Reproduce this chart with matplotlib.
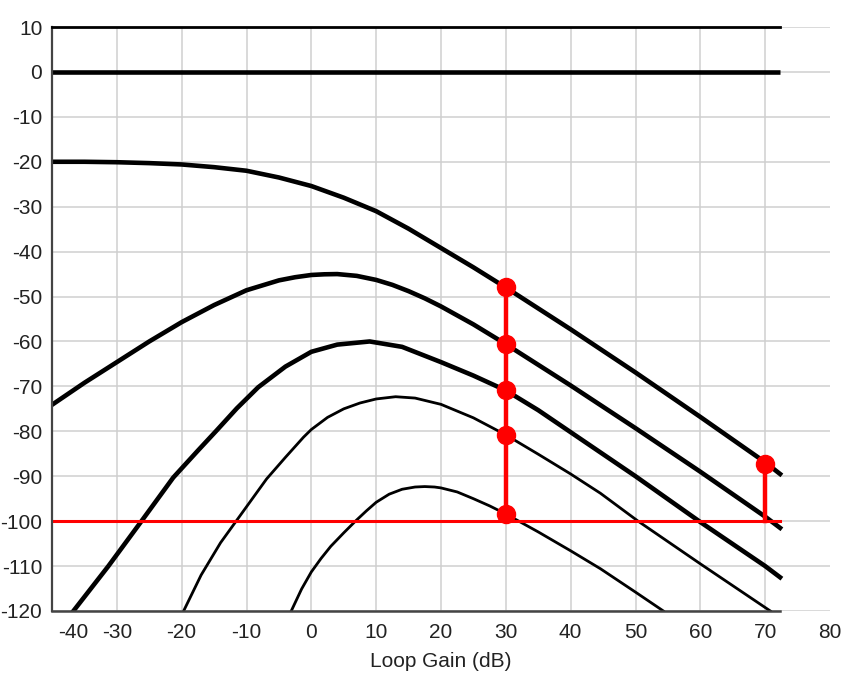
import matplotlib
matplotlib.use("Agg")
import matplotlib.pyplot as plt
from matplotlib.transforms import ScaledTranslation

plt.rcParams['font.family'] = ['Liberation Sans', 'DejaVu Sans']

# ---- data ----
x_ticks = [-40, -30, -20, -10, 0, 10, 20, 30, 40, 50, 60, 70, 80]
x_tick_labels = ['-40', '-30', '-20', '-10', '0', '10', '20', '30', '40', '50', '60', '70', '80']
y_ticks = [10, 0, -10, -20, -30, -40, -50, -60, -70, -80, -90, -100, -110, -120]
y_tick_labels = ['10', '0', '-10', '-20', '-30', '-40', '-50', '-60', '-70', '-80', '-90', '-100', '-110', '-120']
x_label = 'Loop Gain (dB)'

x_end = 72.3

zero_x = [-40, 72.3]
zero_y = [0, 0]

c2_x = [-40, -35, -30, -25, -20, -15, -10, -5, 0, 5, 10, 15, 20, 25, 30, 40, 50, 60, 70, 72.3]
c2_y = [-20, -20, -20.1, -20.3, -20.6, -21.2, -22, -23.5, -25.4, -28, -31, -34.9, -39.2, -43.5, -48, -57.3, -66.9, -76.8, -86.9, -89.5]

c3_x = [-40, -35, -30, -25, -20, -15, -10, -5, -2.5, 0, 2, 4, 7, 10, 12.5, 15, 17.5, 20, 25, 30, 40, 50, 60, 70, 72.3]
c3_y = [-74.1, -69.2, -64.6, -60, -55.7, -51.9, -48.6, -46.4, -45.7, -45.2, -45.05, -45, -45.4, -46.3, -47.4, -48.8, -50.4, -52.2, -56.2, -60.6, -69.8, -79.3, -89, -99, -101.5]

c4_x = [-36.7, -31.3, -26.2, -21.3, -17.5, -14.6, -11.5, -8.2, -4, 0, 4, 9, 14, 20, 25, 30, 35, 40, 50, 60, 70, 72.3]
c4_y = [-120, -110, -100, -90.3, -84.3, -79.8, -74.9, -70.2, -65.6, -62.3, -60.7, -60, -61.2, -64.6, -67.6, -70.9, -75.3, -80.2, -90, -100.2, -110, -112.5]

c5_x = [-19.7, -17, -14, -11.5, -9, -6.9, -4, -1.2, 0, 2.5, 5, 7.5, 10, 13, 16, 20, 25, 30, 35, 40, 44.6, 50.4, 60, 70.8]
c5_y = [-120, -112, -104.8, -99.8, -94.8, -90.6, -85.8, -81.3, -79.6, -76.9, -75, -73.7, -72.8, -72.3, -72.6, -74, -77, -80.8, -85.1, -89.5, -93.8, -100, -109.5, -120]

c6_x = [-3.1, -1.5, 0, 1.5, 3, 5, 6.8, 8.5, 10, 12, 14, 16, 17.5, 19, 20, 22.5, 25, 27.5, 30, 35, 40, 44.6, 50, 54.3]
c6_y = [-120, -115.1, -111.3, -108.3, -105.6, -102.6, -100, -97.7, -95.8, -94, -92.9, -92.4, -92.3, -92.4, -92.6, -93.5, -95, -96.6, -98.4, -102.4, -106.6, -110.6, -115.8, -120]

limit_level = -100
stem1_x = 30
stem1_dots = [-47.9, -60.6, -70.9, -80.8, -98.4]
stem2_x = 69.9
stem2_dots = [-87.2]

# ---- figure ----
W, H = 859, 687
fig = plt.figure(figsize=(W / 100, H / 100), dpi=100)
ax = fig.add_axes([52 / W, (H - 611) / H, (830 - 52) / W, (611 - 27) / H])
ax.set_xlim(-40, 80)
ax.set_ylim(-120, 10)

ax.set_xticks(x_ticks)
ax.set_xticklabels(x_tick_labels, fontsize=15, color='#222222')
ax.set_yticks(y_ticks)
ax.set_yticklabels(y_tick_labels, fontsize=15, color='#222222')
ax.tick_params(axis='both', length=0)
ax.tick_params(axis='y', pad=7)
ax.tick_params(axis='x', pad=9)

ax.grid(True, color='#cfcfcf', linewidth=1.1, zorder=0)
ax.set_axisbelow(True)
ax.get_xgridlines()[-1].set_visible(False)

# shift the first x tick label as in the reference
lbl0 = ax.get_xticklabels()[0]
lbl0.set_transform(lbl0.get_transform() + ScaledTranslation(0.21, 0, fig.dpi_scale_trans))

ax.spines['right'].set_visible(False)
ax.spines['top'].set_bounds(-40, x_end)
ax.spines['top'].set_color('black')
ax.spines['top'].set_linewidth(2.0)
ax.spines['bottom'].set_bounds(-40, x_end)
ax.spines['bottom'].set_color('#444444')
ax.spines['bottom'].set_linewidth(1.8)
ax.spines['left'].set_color('#444444')
ax.spines['left'].set_linewidth(1.6)

ax.set_xlabel(x_label, fontsize=15, color='#222222', labelpad=7)

thick = 3.3
thin = 2.0
ax.plot(zero_x, zero_y, color='black', lw=thick, solid_capstyle='butt', zorder=3)
ax.plot(c2_x, c2_y, color='black', lw=thick, zorder=3)
ax.plot(c3_x, c3_y, color='black', lw=thick, zorder=3)
ax.plot(c4_x, c4_y, color='black', lw=thick, zorder=3)
ax.plot(c5_x, c5_y, color='black', lw=thin, zorder=3)
ax.plot(c6_x, c6_y, color='black', lw=thin, zorder=3)

red = '#ff0000'
ax.plot([-40, x_end], [limit_level, limit_level], color=red, lw=2.2, zorder=4)
ax.plot([stem1_x, stem1_x], [limit_level, max(stem1_dots)], color=red, lw=3.2, zorder=5)
ax.plot([stem1_x] * len(stem1_dots), stem1_dots, 'o', color=red, ms=13, zorder=6)
ax.plot([stem2_x, stem2_x], [limit_level, max(stem2_dots)], color=red, lw=3.2, zorder=5)
ax.plot([stem2_x] * len(stem2_dots), stem2_dots, 'o', color=red, ms=13, zorder=6)

for s in ax.spines.values():
    s.set_zorder(7)

fig.savefig('out.png', dpi=100)
